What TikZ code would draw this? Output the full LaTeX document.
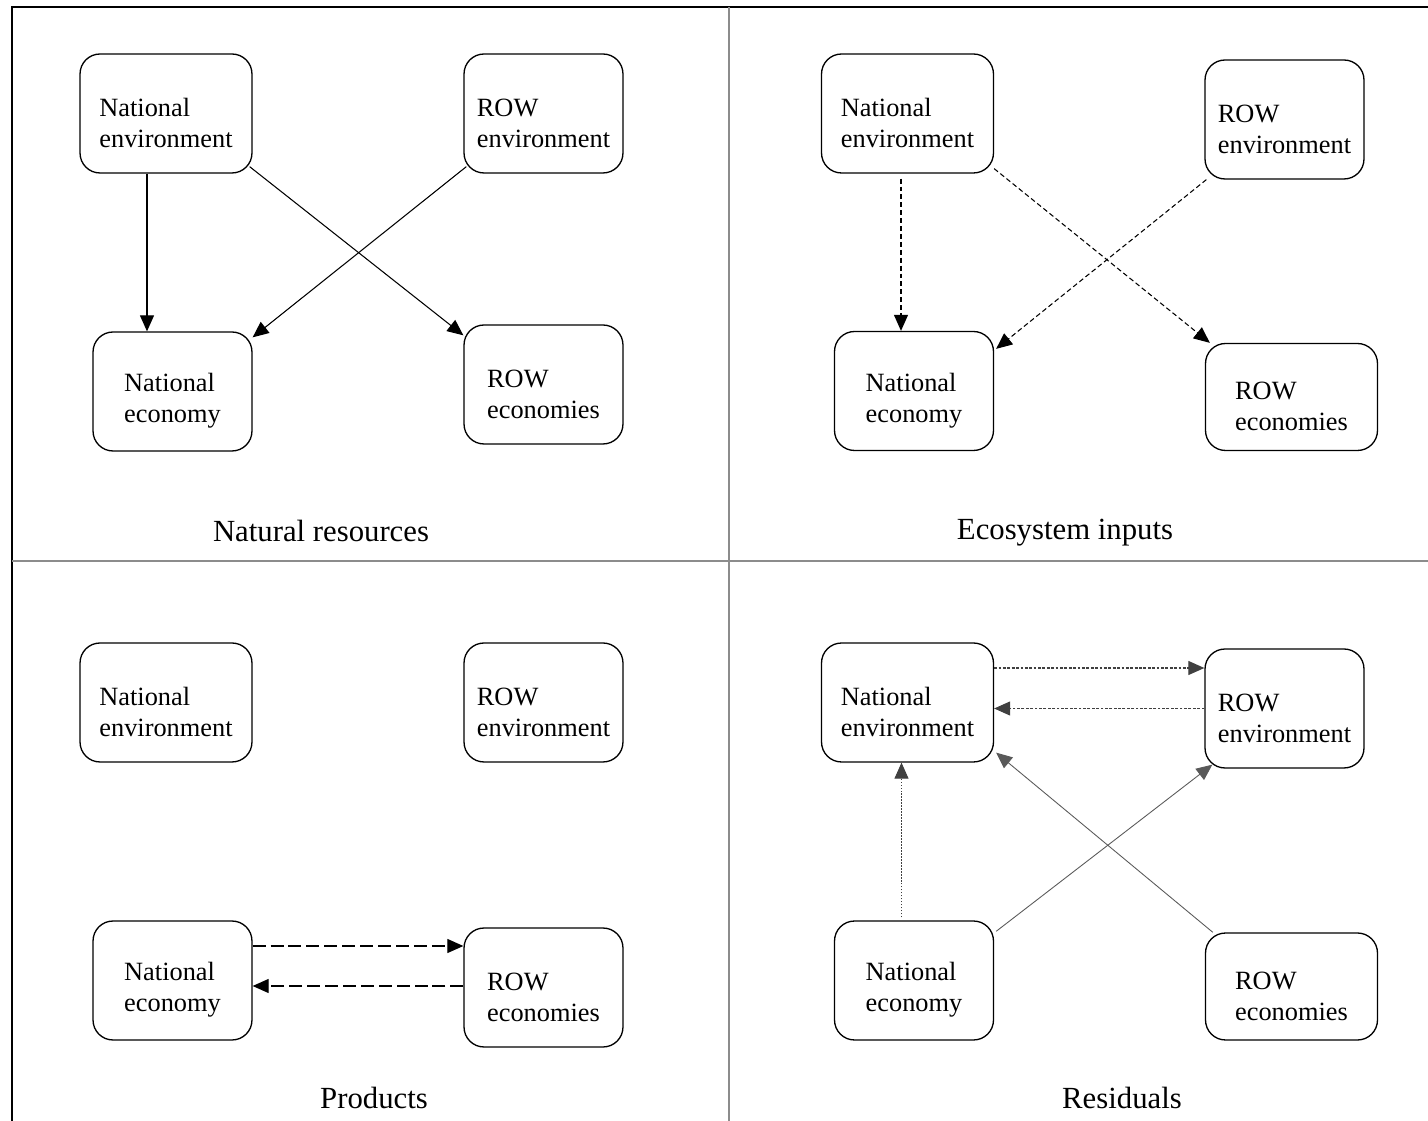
\documentclass[tikz,border=0pt]{standalone}
\usepackage{fontspec}
\setmainfont{Liberation Serif}
\usetikzlibrary{arrows.meta}
% two lines, set a little low in the box
\newcommand\twolines[2]{\rule{0pt}{21pt}#1\\#2}

\begin{document}
\begin{tikzpicture}[x=0.02cm, y=-0.02cm,
  flowbox/.style={draw, line width=0.75pt, rounded corners=0.4cm, minimum height=2.38cm,
    inner sep=0pt, align=left, font=\fontsize{15}{17.6}\selectfont},
  widebox/.style={flowbox, minimum width=3.44cm},
  slimbox/.style={flowbox, minimum width=3.18cm},
  flat/.style={minimum height=2.14cm},
  panetitle/.style={font=\fontsize{17.5}{20}\selectfont},
  flow/.style={line width=0.6pt, -{Triangle[length=0.32cm, width=0.28cm]}},
  shortdash/.style={flow, dash pattern=on 2.8pt off 1.7pt},
  longdash/.style={flow, dash pattern=on 7.4pt off 2.8pt},
  finedash/.style={flow, black!75, dash pattern=on 1.6pt off 0.9pt},
  finedot/.style={flow, black!75, dash pattern=on 0.8pt off 0.9pt},
  thinline/.style={flow, black!65, line width=0.5pt}]

  % Frame and the four panes
  \useasboundingbox (0,0) rectangle (1428,1121);
  \draw[line width=0.8pt] (12,1121) -- (12,7) -- (1428,7);
  \draw[black!45, line width=1.1pt] (729,7) -- (729,1121);
  \draw[black!45, line width=1.1pt] (12,561) -- (1428,561);

  % Natural resources
  \node[widebox] (ne1) at (166,113.5) {\twolines{National}{environment}};
  \node[slimbox] (re1) at (543.5,113.5) {\twolines{ROW}{environment}};
  \node[slimbox] (nc1) at (172.5,391.5) {\twolines{National}{economy}};
  \node[slimbox] (rc1) at (543.5,384.5) {\twolines{ROW}{economies}};
  \draw[flow] ([xshift=-0.38cm]ne1.south) -- ([xshift=-0.38cm]ne1.south |- nc1.north);
  \draw[flow] ([xshift=-0.06cm,yshift=0.14cm]ne1.south east) -- ([yshift=-0.22cm]rc1.north west);
  \draw[flow] ([xshift=0.06cm,yshift=0.14cm]re1.south west) -- ([yshift=-0.12cm]nc1.north east);
  \node[panetitle] (t1) at (321,531) {Natural resources};

  % Ecosystem inputs
  \node[widebox] (ne2) at (907.5,113.5) {\twolines{National}{environment}};
  \node[slimbox] (re2) at (1284.5,119.5) {\twolines{ROW}{environment}};
  \node[slimbox] (nc2) at (914,391) {\twolines{National}{economy}};
  \node[widebox, flat] (rc2) at (1291.5,397) {\twolines{ROW}{economies}};
  \draw[shortdash] ([xshift=-0.13cm,yshift=-0.1cm]ne2.south) -- ([xshift=-0.13cm]ne2.south |- nc2.north);
  \draw[shortdash] ([yshift=0.1cm]ne2.south east) -- ([xshift=0.1cm]rc2.north west);
  \draw[shortdash] ([xshift=0.04cm]re2.south west) -- ([xshift=0.04cm,yshift=-0.36cm]nc2.north east);
  \node[panetitle] (t2) at (1065,533) {Ecosystem inputs};

  % Products
  \node[widebox] (ne3) at (166,702.5) {\twolines{National}{environment}};
  \node[slimbox] (re3) at (543.5,702.5) {\twolines{ROW}{environment}};
  \node[slimbox] (nc3) at (172.5,980.5) {\twolines{National}{economy}};
  \node[slimbox] (rc3) at (543.5,987.5) {\twolines{ROW}{economies}};
  \draw[longdash] ([yshift=0.69cm]nc3.east) -- ([yshift=0.69cm]nc3.east -| rc3.west);
  \draw[longdash] ([yshift=0.03cm]rc3.west) -- ([yshift=0.03cm]rc3.west -| nc3.east);
  \node[panetitle] (t3) at (374,1098) {Products};

  % Residuals
  \node[widebox] (ne4) at (907.5,702.5) {\twolines{National}{environment}};
  \node[slimbox] (re4) at (1284.5,708.5) {\twolines{ROW}{environment}};
  \node[slimbox] (nc4) at (914,980.5) {\twolines{National}{economy}};
  \node[widebox, flat] (rc4) at (1291.5,986.5) {\twolines{ROW}{economies}};
  \draw[finedash] ([yshift=0.69cm]ne4.east) -- ([yshift=0.69cm]ne4.east -| re4.west);
  \draw[finedash] (re4.west) -- (re4.west -| ne4.east);
  \draw[finedot] ([xshift=-0.25cm,yshift=0.06cm]nc4.north) -- ([xshift=-0.25cm]nc4.north |- ne4.south);
  \draw[thinline] ([xshift=0.04cm,yshift=-0.22cm]nc4.north east) -- ([xshift=0.16cm,yshift=0.08cm]re4.south west);
  \draw[thinline] ([xshift=0.16cm]rc4.north west) -- ([xshift=0.04cm,yshift=0.2cm]ne4.south east);
  \node[panetitle] (t4) at (1122,1098) {Residuals};
\end{tikzpicture}
\end{document}
